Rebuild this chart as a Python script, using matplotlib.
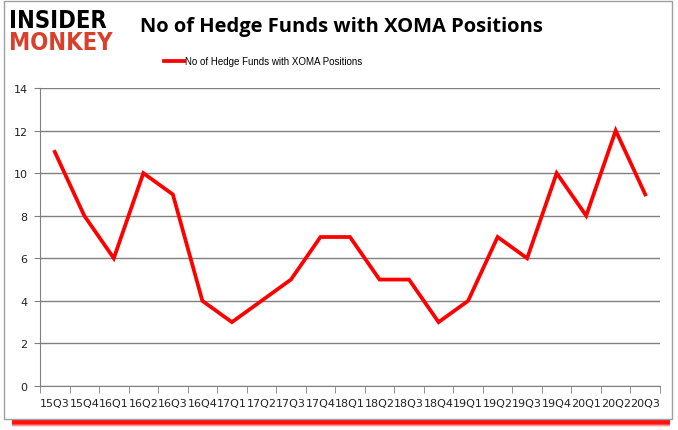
import matplotlib
matplotlib.use('Agg')
import matplotlib.pyplot as plt
from matplotlib.patches import Rectangle

quarters = ['15Q3', '15Q4', '16Q1', '16Q2', '16Q3', '16Q4', '17Q1', '17Q2', '17Q3', '17Q4',
            '18Q1', '18Q2', '18Q3', '18Q4', '19Q1', '19Q2', '19Q3', '19Q4', '20Q1', '20Q2', '20Q3']
funds = [11, 8, 6, 10, 9, 4, 3, 4, 5, 7, 7, 5, 5, 3, 4, 7, 6, 10, 8, 12, 9]
yticks = [0, 2, 4, 6, 8, 10, 12, 14]

W, H = 678, 431
fig = plt.figure(figsize=(W / 100, H / 100), dpi=100)
fig.patch.set_facecolor('white')

# red shadow under the frame, then the grey frame
for i, a in enumerate([0.15, 0.3, 0.5, 0.75]):
    fig.patches.append(Rectangle((12 / W, (H - 428 + i) / H), 658 / W, 8 / H,
                                 transform=fig.transFigure, facecolor='red', alpha=a,
                                 edgecolor='none', zorder=0))
fig.patches.append(Rectangle((4 / W, (H - 420) / H), 668 / W, 418 / H,
                             transform=fig.transFigure, facecolor='white',
                             edgecolor='#a0a0a0', linewidth=1, zorder=1))

ax = fig.add_axes([40 / W, (H - 387) / H, 620 / W, 298 / H])
ax.set_zorder(2)
x = range(len(quarters))
ax.plot(x, funds, color='red', linewidth=2.7, solid_joinstyle='miter',
        label='No of Hedge Funds with XOMA Positions')
ax.set_xlim(-0.5, len(quarters) - 0.5)
ax.set_ylim(0, 14)
ax.set_yticks(yticks)
ax.set_yticklabels([str(v) for v in yticks], fontsize=8, color='#222222')
ax.set_xticks(list(x))
ax.set_xticklabels(quarters, fontsize=8, color='#222222')
ax.set_xticks([i - 0.5 for i in range(len(quarters) + 1)], minor=True)
ax.tick_params(axis='x', which='major', length=0, pad=9)
ax.tick_params(axis='x', which='minor', length=5, color='#808080', direction='out')
ax.tick_params(axis='y', length=4, color='#808080', pad=5)
ax.grid(axis='y', color='#808080', linewidth=1)
ax.set_axisbelow(True)
for s in ['top', 'right']:
    ax.spines[s].set_visible(False)
for s in ['left', 'bottom']:
    ax.spines[s].set_color('#808080')
ax.patch.set_alpha(0)

fig.text(341 / W, 1 - 27 / H, 'No of Hedge Funds with XOMA Positions', ha='center', va='center',
         fontsize=14.5, fontweight='bold', family='Open Sans', color='black')
ax.legend(loc='center', bbox_to_anchor=(263 / W, 1 - 62 / H), bbox_transform=fig.transFigure,
          frameon=False, prop={'family': 'Liberation Sans', 'size': 7.0},
          handlelength=2.1, handletextpad=0.1, borderpad=0)

# logo
fig.text(9 / W, 1 - 21 / H, 'INSIDER', fontsize=17, fontweight='heavy', family='DejaVu Sans',
         fontstretch='condensed', color='black', va='center', ha='left')
fig.text(9 / W, 1 - 43 / H, 'MONKEY', fontsize=17, fontweight='heavy', family='DejaVu Sans',
         fontstretch='condensed', color='#d9402b', va='center', ha='left')

fig.savefig('out.png', dpi=100, facecolor='white')
